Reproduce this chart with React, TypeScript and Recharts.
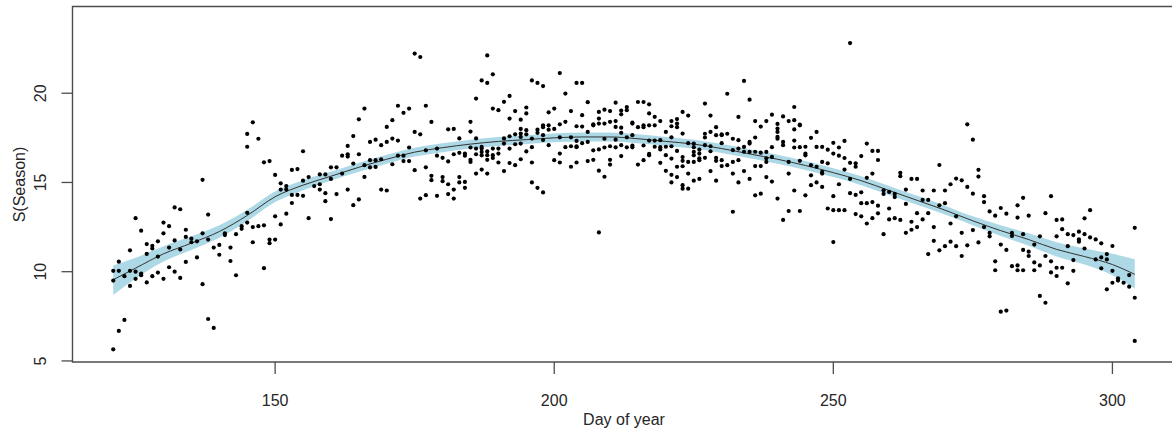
import {
  ComposedChart, Area, Line, Scatter, XAxis, YAxis, ReferenceArea
} from 'recharts'

// smooth term s(Season): day, fit, lower and upper band
const curveDays = [121, 125, 130, 135, 140, 145, 150, 155, 160, 165, 170, 175, 180, 185, 190, 195, 200, 205, 210, 215, 220, 225, 230, 235, 240, 245, 250, 255, 260, 265, 270, 275, 280, 285, 290, 295, 300, 304]
const curveFit = [9.55, 10.2, 11.0, 11.6, 12.25, 13.15, 14.2, 14.85, 15.35, 15.85, 16.3, 16.7, 16.95, 17.15, 17.3, 17.4, 17.5, 17.55, 17.55, 17.45, 17.3, 17.15, 16.9, 16.6, 16.3, 15.95, 15.55, 15.1, 14.55, 14.0, 13.45, 12.85, 12.3, 11.8, 11.25, 10.85, 10.4, 9.85]
const curveLower = [8.7, 9.62, 10.57, 11.22, 11.9, 12.83, 13.9, 14.57, 15.1, 15.6, 16.05, 16.45, 16.7, 16.9, 17.05, 17.15, 17.25, 17.3, 17.3, 17.2, 17.05, 16.9, 16.65, 16.35, 16.05, 15.7, 15.3, 14.85, 14.3, 13.75, 13.2, 12.6, 12.0, 11.45, 10.85, 10.4, 9.8, 9.05]
const curveUpper = [10.35, 10.78, 11.43, 11.98, 12.6, 13.47, 14.5, 15.13, 15.6, 16.1, 16.55, 16.95, 17.2, 17.4, 17.55, 17.65, 17.75, 17.8, 17.8, 17.7, 17.55, 17.4, 17.15, 16.85, 16.55, 16.2, 15.8, 15.35, 14.8, 14.25, 13.7, 13.1, 12.6, 12.15, 11.65, 11.3, 11.0, 10.7]

// partial residuals, grouped by day of year
const residualsByDay: [number, number[]][] = [
  [121, [5.65, 10.05, 9.5]], [122, [6.68, 10.56, 10.05]], [123, [7.3, 9.75]], [124, [11.2, 10.05, 9.2]],
  [125, [13.0, 10.0, 9.6]], [126, [12.3, 9.9, 9.8]], [127, [11.55, 11.0, 9.4]], [128, [11.45, 11.3, 9.75]],
  [129, [11.7, 10.85, 9.95]], [130, [12.75, 12.15, 9.6]], [131, [12.55, 11.35, 10.25]], [132, [13.6, 11.75, 10.0]],
  [133, [13.5, 11.25, 9.65]], [134, [12.35, 11.95, 10.55]], [135, [11.85, 11.65]], [136, [11.7, 10.8]],
  [137, [15.15, 12.15, 9.3]], [138, [13.2, 11.8, 7.35]], [139, [6.85, 11.35]], [140, [11.5, 10.95]],
  [141, [12.15, 12.05]], [142, [11.35, 10.6]], [143, [12.1, 9.8]], [144, [12.55, 12.4]],
  [145, [17.0, 13.3, 12.75, 17.72]], [146, [18.37, 11.65, 12.5]], [147, [17.45, 12.55]], [148, [16.13, 12.6, 10.2]],
  [149, [16.2, 11.8, 11.6]], [150, [15.42, 13.1, 11.8]], [151, [14.95, 14.6, 12.65]], [152, [14.8, 14.6, 13.25]],
  [153, [15.7, 14.3, 13.85]], [154, [15.75, 14.3]], [155, [16.75, 15.1, 14.25]], [156, [15.3, 13.0]],
  [157, [14.8]], [158, [15.45, 14.9, 14.6]], [159, [15.45, 14.4, 13.95]], [160, [15.85, 15.2, 12.95]],
  [161, [15.85, 14.35]], [162, [16.5, 15.5]], [163, [17.05, 16.45, 14.6, 16.58]], [164, [17.6, 16.06, 13.73]],
  [165, [18.54, 16.58, 14.05]], [166, [19.14, 15.97, 15.31]], [167, [17.27, 16.25, 15.84]], [168, [17.4, 16.25, 15.87]],
  [169, [17.09, 16.3, 14.6]], [170, [18.11, 17.27, 14.55]], [171, [18.49, 17.46, 16.02]], [172, [19.3, 17.35, 16.5]],
  [173, [18.9, 16.5, 16.2]], [174, [19.14, 16.96, 16.2]], [175, [22.22, 17.83, 15.69]], [176, [22.03, 17.7, 14.1]],
  [177, [19.3, 16.8, 15.85, 14.29]], [178, [18.39, 15.37, 15.13]], [179, [16.9, 16.5, 14.25]], [180, [16.38, 15.3, 15.07]],
  [181, [17.98, 16.18, 14.9, 14.35]], [182, [18.0, 16.58, 14.6, 14.1]], [183, [17.47, 15.3, 15.0, 16.66]], [184, [16.62, 16.5, 15.03, 14.7]],
  [185, [18.4, 17.85, 16.27, 16.96, 16.15]], [186, [19.7, 17.47, 16.9, 15.5, 16.58]], [187, [20.72, 16.9, 16.52, 15.72, 16.99, 16.71]],
  [188, [22.12, 20.58, 16.74, 16.27, 15.5, 16.53]], [189, [21.06, 19.14, 16.9, 16.37, 16.53]], [190, [19.05, 16.9, 16.12, 16.62]],
  [191, [19.52, 17.47, 15.64, 17.18]], [192, [19.85, 18.58, 16.09, 17.59, 16.9]], [193, [19.0, 17.7, 15.97, 17.14]],
  [194, [18.52, 18.0, 16.3, 17.74, 17.55, 17.18]], [195, [19.2, 18.87, 17.7, 16.74, 17.93]], [196, [20.72, 16.98, 16.12, 15.0, 17.46]],
  [197, [20.58, 17.96, 14.7, 17.78]], [198, [20.4, 18.1, 17.38, 14.44, 18.2, 17.65]], [199, [18.93, 17.96, 17.09, 18.2]],
  [200, [19.14, 18.0, 16.25]], [201, [21.13, 17.53, 16.12, 18.26, 16.62]], [202, [19.98, 18.4, 16.98]],
  [203, [19.0, 17.53, 15.88, 17.03]], [204, [20.58, 16.98, 16.12, 18.15, 17.33, 17.03]], [205, [20.58, 18.13, 17.2, 18.77]],
  [206, [19.5, 17.27, 16.2, 17.83]], [207, [18.26, 16.8, 16.27, 18.2]], [208, [18.95, 18.58, 15.66, 12.2, 18.3, 16.85]],
  [209, [19.08, 17.45, 15.32, 18.3, 16.96]], [210, [19.0, 18.4, 16.27, 16.0, 17.03]], [211, [19.47, 18.44, 16.97, 18.11, 17.4]],
  [212, [19.03, 18.07, 16.48, 18.82, 17.78, 17.09]], [213, [19.23, 17.53, 16.97, 19.05]], [214, [18.35, 17.07, 16.97, 18.3, 17.65]],
  [215, [19.51, 18.1, 16.0]], [216, [19.51, 17.07, 18.1, 18.2, 16.25]], [217, [18.87, 17.35, 16.52, 19.38, 18.2, 16.6]],
  [218, [18.68, 17.35, 17.0, 18.2]], [219, [18.44, 16.98, 16.1, 17.37, 16.85]], [220, [17.83, 17.0, 15.65, 16.53]],
  [221, [18.44, 17.53, 15.43, 15.0, 18.15, 17.03, 16.34]], [222, [18.55, 18.1, 15.88, 15.3, 18.3, 16.77]],
  [223, [18.95, 16.42, 14.65, 17.74, 16.21, 15.91, 14.85]], [224, [18.75, 17.2, 15.5, 14.65, 16.15]],
  [225, [16.98, 16.52, 15.1, 17.18, 16.71, 16.15]], [226, [16.84, 16.35, 15.2, 16.62, 16.25]], [227, [19.42, 17.73, 16.38, 17.52, 17.09]],
  [228, [18.75, 16.75, 15.64, 17.83, 17.03]], [229, [18.1, 16.38, 15.1, 17.65, 16.21]], [230, [17.7, 17.2, 15.92, 17.65, 16.25]],
  [231, [19.97, 17.73, 15.97]], [232, [17.45, 16.15, 13.36, 16.81, 15.5]], [233, [16.9, 15.0, 18.67, 17.37, 16.25]],
  [234, [20.69, 16.72, 15.64, 16.99]], [235, [19.64, 17.27, 15.2, 17.18, 16.71]], [236, [18.44, 16.72, 15.92, 14.28, 17.52]],
  [237, [18.13, 16.67, 15.92, 14.37]], [238, [18.44, 16.35, 15.3, 16.71, 16.15]], [239, [18.8, 16.98, 15.05, 16.43]],
  [240, [18.28, 17.45, 14.1, 18.02, 17.83, 17.55]], [241, [18.7, 17.27, 12.9, 17.09]], [242, [18.44, 15.5, 13.4, 16.15]],
  [243, [19.23, 17.35, 14.55, 18.49, 17.97, 16.96]], [244, [18.24, 16.98, 13.4, 18.2, 16.21]], [245, [17.0, 16.52, 14.28, 16.62]],
  [246, [17.5, 15.4, 14.85, 15.97]], [247, [17.83, 15.88, 15.0, 16.99]], [248, [16.15, 15.5, 14.75, 16.99, 15.59]],
  [249, [16.84, 16.07, 13.54]], [250, [17.22, 16.62, 14.23, 13.45, 11.66]], [251, [16.96, 16.5, 14.9, 13.45]], [252, [17.33, 16.37, 15.72, 13.45]],
  [253, [22.81, 16.1, 15.2, 14.4]], [254, [16.07, 15.88, 14.3, 13.23]], [255, [16.48, 14.45, 13.84, 13.1]], [256, [17.18, 15.26, 13.84, 12.7]],
  [257, [16.77, 15.5, 13.9, 13.0]], [258, [16.77, 16.26, 13.7, 13.27]], [259, [14.56, 14.36, 12.1]], [260, [14.47, 13.54, 12.93]],
  [261, [14.36, 14.18, 13.0]], [262, [15.54, 15.35, 12.9]], [263, [14.6, 13.8, 12.18]], [264, [15.2, 12.8, 12.35]],
  [265, [15.2, 13.28, 12.5]], [266, [14.55, 14.02, 12.93]], [267, [14.02, 13.28, 10.99]], [268, [14.55, 12.5, 11.73]],
  [269, [15.98, 13.72, 11.2]], [270, [14.55, 13.84, 11.43]], [271, [14.9, 12.7, 11.68]], [272, [15.22, 13.1, 11.43]],
  [273, [15.12, 12.18, 10.88]], [274, [18.26, 14.75, 11.48]], [275, [17.4, 14.37, 12.33]], [276, [15.71, 15.33, 11.64]],
  [277, [14.23, 13.9, 12.5]], [278, [13.38, 12.17, 11.98]], [279, [13.14, 10.58, 10.08]], [280, [13.57, 7.76, 11.52]],
  [281, [13.25, 7.82, 11.22]], [282, [12.17, 10.31, 12.0]], [283, [13.72, 13.03, 10.35, 10.08]], [284, [14.14, 12.1, 11.22, 10.08]],
  [285, [13.14, 11.12, 10.88]], [286, [11.52, 10.52, 10.08]], [287, [11.98, 10.35, 8.64]], [288, [13.28, 10.88, 8.26]],
  [289, [14.23, 10.58, 9.96]], [290, [12.9, 11.98, 10.22, 9.76]], [291, [12.93, 12.38, 10.22]], [292, [12.1, 11.43, 9.35]],
  [293, [12.05, 10.65, 10.05]], [294, [12.24, 11.81, 11.68]], [295, [12.99, 11.3, 12.1]], [296, [13.45, 11.92]],
  [297, [11.81, 10.69]], [298, [11.59, 10.8, 10.19]], [299, [10.99, 10.69, 9.01]], [300, [11.44, 10.05, 9.38]],
  [301, [9.63, 9.5]], [302, [9.38]], [303, [9.81, 9.16]], [304, [12.46, 8.54, 6.12]],
]

const xTicks = [150, 200, 250, 300]
const yTicks = [5, 10, 15, 20]
const X_DOMAIN: [number, number] = [113.7, 311.3]
const Y_DOMAIN: [number, number] = [4.94, 24.86]

const FONT = '"Liberation Sans", Arial, Helvetica, sans-serif'
const TEXT = '#262626'
const AXIS = '#4d4d4d'

const curveData = curveDays.map((day, i) => ({
  day,
  fit: curveFit[i],
  band: [curveLower[i], curveUpper[i]],
}))

const pointData = residualsByDay.flatMap(([day, vals]) => vals.map((value) => ({ day, value })))

function YTick({ y, payload }: any) {
  return (
    <text
      x={46.5}
      y={y}
      transform={`rotate(-90, 46.5, ${y})`}
      textAnchor="middle"
      fontSize={16}
      fontFamily={FONT}
      fill={TEXT}
    >
      {payload.value}
    </text>
  )
}

function Dot({ cx, cy }: any) {
  return <circle cx={cx} cy={cy} r={2.1} fill="#000" />
}

export default function App() {
  return (
    <div style={{ position: 'fixed', left: 0, top: 0, width: 1172, height: 430, overflow: 'hidden', background: '#fff' }}>
      <ComposedChart
        width={1180}
        height={430}
        data={curveData}
        margin={{ top: 6.5, right: 4.5, bottom: 0, left: 0 }}
      >
        <XAxis
          type="number"
          dataKey="day"
          domain={X_DOMAIN}
          allowDataOverflow
          ticks={xTicks}
          tickSize={12}
          tickMargin={21}
          height={68}
          axisLine={false}
          tickLine={{ stroke: AXIS, strokeWidth: 1.3 }}
          tick={{ fontSize: 16, fontFamily: FONT, fill: TEXT }}
          label={{
            content: () => (
              <text x={624} y={424.5} textAnchor="middle" fontSize={16} fontFamily={FONT} fill={TEXT}>
                Day of year
              </text>
            ),
          }}
        />
        <YAxis
          type="number"
          dataKey="value"
          domain={Y_DOMAIN}
          allowDataOverflow
          ticks={yTicks}
          width={72.5}
          tickSize={11}
          axisLine={false}
          tickLine={{ stroke: AXIS, strokeWidth: 1.3 }}
          tick={<YTick />}
          label={{
            content: () => (
              <text
                x={24.5}
                y={184.5}
                transform="rotate(-90, 24.5, 184.5)"
                textAnchor="middle"
                fontSize={16}
                fontFamily={FONT}
                fill={TEXT}
              >
                S(Season)
              </text>
            ),
          }}
        />
        <Area
          type="monotone"
          dataKey="band"
          stroke="none"
          fill="#add8e6"
          fillOpacity={1}
          isAnimationActive={false}
        />
        <Line
          type="monotone"
          dataKey="fit"
          stroke="#333"
          strokeWidth={1}
          dot={false}
          isAnimationActive={false}
        />
        <Scatter data={pointData} dataKey="value" shape={<Dot />} isAnimationActive={false} />
        <ReferenceArea
          x1={X_DOMAIN[0]}
          x2={X_DOMAIN[1]}
          y1={Y_DOMAIN[0]}
          y2={Y_DOMAIN[1]}
          fill="none"
          stroke={AXIS}
          strokeWidth={1.4}
          ifOverflow="visible"
        />
      </ComposedChart>
    </div>
  )
}
